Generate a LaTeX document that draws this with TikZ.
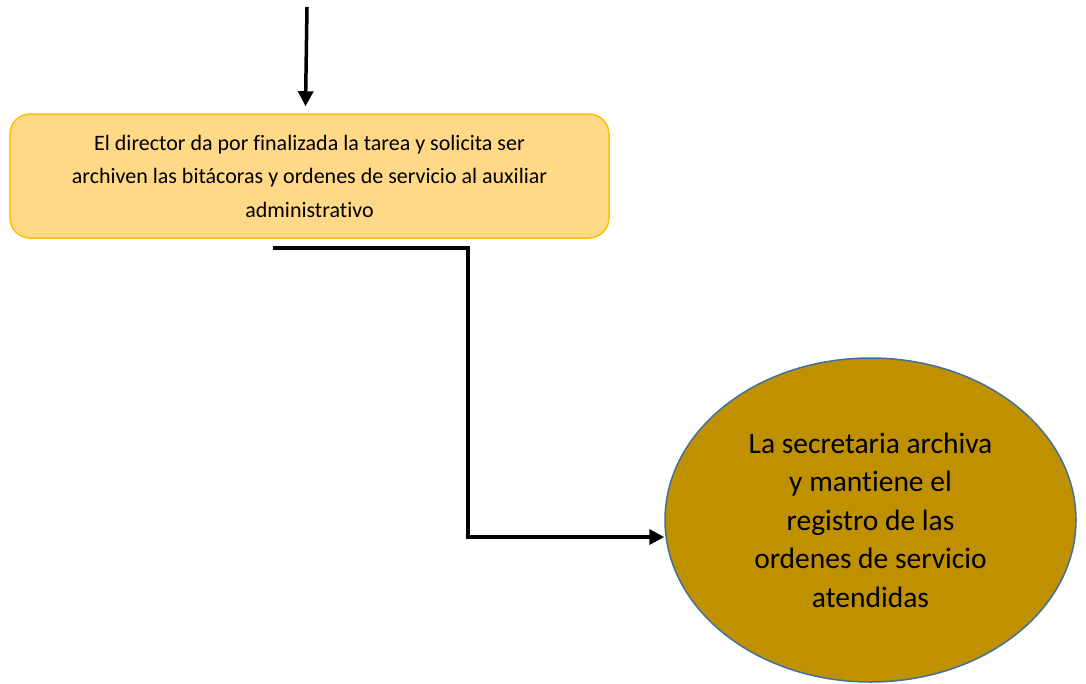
\documentclass[tikz,border=0pt]{standalone}
\usepackage{fontspec}
\setmainfont[Ligatures=NoCommon]{Carlito}
\usepackage{tikz}
\usetikzlibrary{shapes,arrows.meta}
\usetikzlibrary{positioning, shapes.geometric}
\usetikzlibrary{calc}
\definecolor{boxfill}{HTML}{FFD888}
\definecolor{boxline}{HTML}{FFC000}
\definecolor{ovalfill}{HTML}{BF9000}
\definecolor{ovalline}{HTML}{41719C}

\begin{document}
\begin{tikzpicture}
[x=1pt,y=-1pt,
   tarea/.style={rectangle, rounded corners=20pt, draw=boxline, line width=1.5pt, fill=boxfill,
      minimum width=599pt, minimum height=124pt, align=center, font=\fontsize{22}{33.5}\selectfont},
   archivo/.style={ellipse, draw=ovalline, line width=1.5pt, fill=ovalfill, inner sep=0pt,
      minimum width=411pt, minimum height=324pt, align=center, font=\fontsize{29.5}{38.5}\selectfont},
   flujo/.style={line width=3.5pt, -{Triangle[width=15pt,length=15pt]}}]
\useasboundingbox (0,0) rectangle (1086,683);
\node[tarea] (dir) at (309.5,176) {El director da por finalizada la tarea y solicita ser\\
   archiven las bitácoras y ordenes de servicio al auxiliar\\ administrativo};
\node[archivo] (sec) at (870.5,520) {La secretaria archiva\\ y mantiene el\\ registro de las\\
   ordenes de servicio\\ atendidas};
\coordinate (ini) at (307,7);
\coordinate (sal) at ($(dir.south)+(-36.5,9)$);
\coordinate (codo) at (468,537);
\draw[flujo] (ini) -- ($(dir.north)+(-4,-7)$);
\draw[flujo] (sal) -| (codo) -- (codo -| sec.west);
\end{tikzpicture}
\end{document}
